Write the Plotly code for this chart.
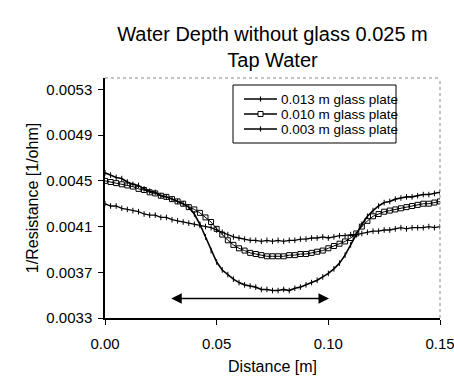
import plotly.graph_objects as go

distance = [0.0, 0.0025, 0.005, 0.0075, 0.01, 0.0125, 0.015, 0.0175, 0.02, 0.0225,
            0.025, 0.0275, 0.03, 0.0325, 0.035, 0.0375, 0.04, 0.0425, 0.045, 0.0475,
            0.05, 0.0525, 0.055, 0.0575, 0.06, 0.0625, 0.065, 0.0675, 0.07, 0.0725,
            0.075, 0.0775, 0.08, 0.0825, 0.085, 0.0875, 0.09, 0.0925, 0.095, 0.0975,
            0.1, 0.1025, 0.105, 0.1075, 0.11, 0.1125, 0.115, 0.1175, 0.12, 0.1225,
            0.125, 0.1275, 0.13, 0.1325, 0.135, 0.1375, 0.14, 0.1425, 0.145, 0.1475, 0.15]

plate_013 = [0.00457, 0.00455, 0.00453, 0.00452, 0.00449, 0.00447, 0.00446, 0.00443, 0.00441, 0.00440,
             0.00437, 0.00436, 0.00434, 0.00432, 0.00430, 0.00427, 0.00421, 0.00412, 0.00401, 0.00389,
             0.00379, 0.00372, 0.00368, 0.00364, 0.00361, 0.00359, 0.00358, 0.00357, 0.00355, 0.00355,
             0.00354, 0.00354, 0.00355, 0.00354, 0.00356, 0.00357, 0.00359, 0.00361, 0.00363, 0.00366,
             0.00369, 0.00373, 0.00378, 0.00385, 0.00394, 0.00403, 0.00412, 0.00419, 0.00424, 0.00428,
             0.00431, 0.00432, 0.00434, 0.00435, 0.00436, 0.00436, 0.00437, 0.00438, 0.00438, 0.00439, 0.00440]

plate_010 = [0.00450, 0.00449, 0.00448, 0.00447, 0.00446, 0.00445, 0.00443, 0.00442, 0.00440, 0.00439,
             0.00437, 0.00436, 0.00434, 0.00432, 0.00430, 0.00427, 0.00425, 0.00422, 0.00418, 0.00414,
             0.00408, 0.00403, 0.00398, 0.00394, 0.00391, 0.00389, 0.00387, 0.00386, 0.00385, 0.00384,
             0.00384, 0.00384, 0.00384, 0.00385, 0.00385, 0.00386, 0.00386, 0.00387, 0.00388, 0.00389,
             0.00391, 0.00393, 0.00395, 0.00397, 0.00400, 0.00404, 0.00410, 0.00415, 0.00419, 0.00421,
             0.00423, 0.00424, 0.00425, 0.00426, 0.00427, 0.00428, 0.00429, 0.00430, 0.00430, 0.00431, 0.00432]

plate_003 = [0.00430, 0.00428, 0.00428, 0.00426, 0.00425, 0.00424, 0.00423, 0.00421, 0.00420, 0.00420,
             0.00418, 0.00418, 0.00416, 0.00415, 0.00414, 0.00413, 0.00412, 0.00411, 0.00410, 0.00409,
             0.00407, 0.00405, 0.00403, 0.00401, 0.00400, 0.00399, 0.00398, 0.00398, 0.00397, 0.00398,
             0.00397, 0.00398, 0.00397, 0.00398, 0.00398, 0.00399, 0.00399, 0.00400, 0.00400, 0.00401,
             0.00400, 0.00401, 0.00402, 0.00402, 0.00403, 0.00403, 0.00404, 0.00405, 0.00406, 0.00406,
             0.00407, 0.00407, 0.00408, 0.00409, 0.00408, 0.00409, 0.00409, 0.00409, 0.00410, 0.00409, 0.00410]

series_names = ["0.013 m glass plate", "0.010 m glass plate", "0.003 m glass plate"]

y_ticks = [0.0033, 0.0037, 0.0041, 0.0045, 0.0049, 0.0053]
x_ticks = [0.0, 0.05, 0.10, 0.15]
x_tick_labels = ["0.00", "0.05", "0.10", "0.15"]

arrow_x = [0.029, 0.1003]
arrow_y = 0.00347

FONT = "Arial, Liberation Sans, sans-serif"

# plot area in pixels
W, H = 454, 381
L, R, T, B = 105, 14, 78, 63
PW, PH = W - L - R, H - T - B


def px(xp):
    return (xp - L) / PW


def py(yp):
    return (H - B - yp) / PH


fig = go.Figure()
styles = [
    dict(line=dict(color="black", width=1.6),
         marker=dict(symbol="line-ns", size=4, color="black", line=dict(color="black", width=1))),
    dict(line=dict(color="black", width=1),
         marker=dict(symbol="square-open", size=5, color="black", line=dict(color="black", width=1))),
    dict(line=dict(color="black", width=1.3),
         marker=dict(symbol="line-ns", size=4, color="black", line=dict(color="black", width=1))),
]
for name, vals, st in zip(series_names, [plate_013, plate_010, plate_003], styles):
    fig.add_trace(go.Scatter(x=distance, y=vals, name=name, mode="lines+markers",
                             showlegend=False, **st))

fig.add_annotation(x=arrow_x[1], y=arrow_y, ax=arrow_x[0], ay=arrow_y,
                   xref="x", yref="y", axref="x", ayref="y", text="",
                   showarrow=True, arrowhead=2, arrowside="end+start",
                   arrowsize=1.4, arrowwidth=1.5, arrowcolor="black")

# dotted top and right plot border
fig.add_shape(type="line", xref="paper", yref="paper", x0=0, x1=1, y0=1, y1=1,
              line=dict(color="#888888", width=1, dash="dot"))
fig.add_shape(type="line", xref="paper", yref="paper", x0=1, x1=1, y0=0, y1=1,
              line=dict(color="#888888", width=1, dash="dot"))

# legend box drawn by hand (tighter row spacing than the built-in legend)
box = (233, 85, 396, 143)
fig.add_shape(type="rect", xref="paper", yref="paper",
              x0=px(box[0]), x1=px(box[2]), y0=py(box[3]), y1=py(box[1]),
              line=dict(color="black", width=1), fillcolor="white", layer="above")
rows = [99, 114, 129]
for i, (name, yy) in enumerate(zip(series_names, rows)):
    fig.add_shape(type="line", xref="paper", yref="paper",
                  x0=px(244), x1=px(277), y0=py(yy), y1=py(yy),
                  line=dict(color="black", width=1.3), layer="above")
    if i == 1:
        fig.add_shape(type="rect", xref="paper", yref="paper",
                      x0=px(258), x1=px(263), y0=py(yy + 2.5), y1=py(yy - 2.5),
                      line=dict(color="black", width=1), fillcolor="white", layer="above")
    else:
        fig.add_shape(type="line", xref="paper", yref="paper",
                      x0=px(260.5), x1=px(260.5), y0=py(yy + 2.5), y1=py(yy - 2.5),
                      line=dict(color="black", width=1.2), layer="above")
    fig.add_annotation(xref="paper", yref="paper", x=px(279), y=py(yy),
                       xanchor="left", yanchor="middle", text=name, showarrow=False,
                       font=dict(size=13.5, family=FONT, color="black"))

fig.update_layout(
    width=W, height=H,
    margin=dict(l=L, r=R, t=T, b=B, autoexpand=False),
    paper_bgcolor="white", plot_bgcolor="white",
    font=dict(family=FONT, color="black", size=15),
    title=dict(text="Water Depth without glass 0.025 m<br>Tap Water",
               x=0.5, xref="paper", xanchor="center", y=0.893, yanchor="middle",
               font=dict(size=20, family=FONT, color="black")),
    showlegend=False,
    xaxis=dict(range=[0, 0.15], tickvals=x_ticks, ticktext=x_tick_labels,
               showgrid=False, zeroline=False, showline=True, linecolor="black",
               linewidth=1.5, ticks="outside", ticklen=5, tickcolor="black",
               ticklabelstandoff=6, ticklabeloverflow="allow", automargin=False,
               title=dict(text="Distance [m]", font=dict(size=16), standoff=10),
               tickfont=dict(size=15)),
    yaxis=dict(range=[0.0033, 0.0054], tickvals=y_ticks,
               tickformat=".4f",
               showgrid=False, zeroline=False, showline=True, linecolor="black",
               linewidth=1.5, ticks="outside", ticklen=5, tickcolor="black",
               ticklabelstandoff=3, ticklabeloverflow="allow", automargin=False,
               title=dict(text="1/Resistance [1/ohm]", font=dict(size=16), standoff=4),
               tickfont=dict(size=15)),
)

fig.write_html("out.html", config={"displayModeBar": False},
               post_script="document.body.style.margin='0';document.body.style.overflow='hidden';")
